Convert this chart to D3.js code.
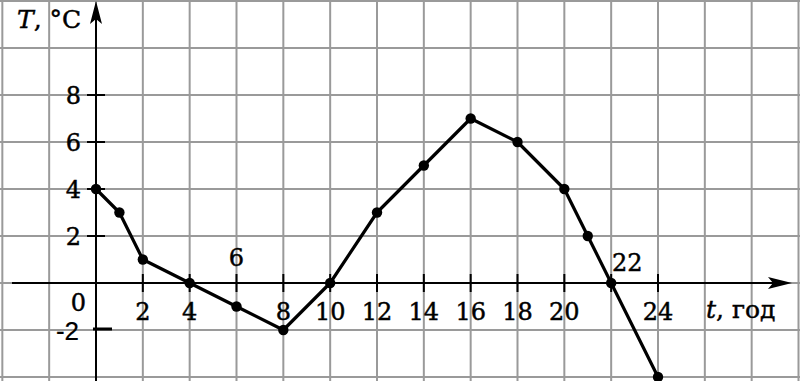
<!DOCTYPE html>
<html><head><meta charset="utf-8">
<script src="https://cdn.jsdelivr.net/npm/d3@7"></script>
<style>html,body{margin:0;padding:0;background:#fff;}svg{display:block;}text{stroke:#000;stroke-width:0.45px;}</style>
</head><body>
<script>
// data
const hours = [0, 1, 2, 4, 6, 8, 10, 12, 14, 16, 18, 20, 21, 22, 24];
const temps = [4, 3, 1, 0, -1, -2, 0, 3, 5, 7, 6, 4, 2, 0, -4];
const xTickLabels = [2, 4, 6, 8, 10, 12, 14, 16, 18, 20, 22, 24];
const xLabelsAbove = [6, 22];
const yTickLabels = [2, 4, 6, 8];
const yNegTick = -2;
const gridX = d3.range(-4, 31, 2);
const gridY = d3.range(-4, 13, 2);

const W = 800, H = 381;
const x = d3.scaleLinear().domain([0, 24]).range([96, 658]);
const y = d3.scaleLinear().domain([-4, 8]).range([377, 95]);

const svg = d3.select("body").append("svg").attr("width", W).attr("height", H);
svg.append("rect").attr("width", W).attr("height", H).attr("fill", "#fff");

// grid
const grid = svg.append("g").attr("stroke", "#9a9a9a").attr("stroke-width", 2);
grid.selectAll("line.v").data(gridX).join("line").attr("class", "v")
  .attr("x1", d => x(d)).attr("x2", d => x(d)).attr("y1", 0).attr("y2", H);
grid.selectAll("line.h").data(gridY).join("line").attr("class", "h")
  .attr("x1", 0).attr("x2", W).attr("y1", d => y(d)).attr("y2", d => y(d));

// axes
const ax = svg.append("g").attr("stroke", "#000").attr("stroke-width", 2);
ax.append("line").attr("x1", 12).attr("x2", 780).attr("y1", y(0)).attr("y2", y(0));
ax.append("line").attr("x1", x(0)).attr("x2", x(0)).attr("y1", 14).attr("y2", H);
svg.append("path").attr("fill", "#000")
  .attr("d", `M${x(0)},1 L${x(0) - 6},24 L${x(0)},19 L${x(0) + 6},24 Z`);
svg.append("path").attr("fill", "#000")
  .attr("d", `M792,${y(0)} L768,${y(0) - 6} L773,${y(0)} L768,${y(0) + 6} Z`);

// ticks
ax.selectAll("line.xt").data(xTickLabels).join("line").attr("class", "xt")
  .attr("x1", d => x(d)).attr("x2", d => x(d)).attr("y1", y(0) - 9).attr("y2", y(0) + 9);
ax.selectAll("line.yt").data(yTickLabels).join("line").attr("class", "yt")
  .attr("x1", x(0) - 9).attr("x2", x(0) + 9).attr("y1", d => y(d)).attr("y2", d => y(d));
svg.append("line").attr("stroke", "#000").attr("stroke-width", 3)
  .attr("x1", x(0) - 3).attr("x2", x(0) + 16).attr("y1", y(yNegTick) - 1).attr("y2", y(yNegTick) - 1);

// labels
const serif = "'DejaVu Serif', serif";
const fs = 24;
svg.selectAll("text.xl").data(xTickLabels).join("text").attr("class", "xl")
  .attr("x", d => x(d) + (d === 22 ? 16 : 0))
  .attr("y", d => xLabelsAbove.includes(d) ? (d === 22 ? y(0) - 12 : y(0) - 17) : y(0) + 37)
  .attr("text-anchor", "middle").attr("font-family", serif).attr("font-size", fs)
  .text(d => d);
svg.selectAll("text.yl").data(yTickLabels).join("text").attr("class", "yl")
  .attr("x", x(0) - 15).attr("y", d => y(d) + 9)
  .attr("text-anchor", "end").attr("font-family", serif).attr("font-size", fs)
  .text(d => d);
svg.append("text").attr("x", x(0) - 10).attr("y", y(0) + 28)
  .attr("text-anchor", "end").attr("font-family", serif).attr("font-size", fs).text("0");
svg.append("text").attr("x", x(0) - 17).attr("y", y(yNegTick) + 10)
  .attr("text-anchor", "end").attr("font-family", "'Liberation Sans', Arial, sans-serif")
  .attr("font-size", 26).style("stroke-width", "0.2px").text(yNegTick);

const tT = svg.append("text").attr("x", 17).attr("y", 28).attr("font-family", serif).attr("font-size", 25);
tT.append("tspan").attr("font-style", "italic").text("T");
tT.append("tspan").text(", °C");
const tX = svg.append("text").attr("x", 706).attr("y", 318).attr("font-family", serif).attr("font-size", 25);
tX.append("tspan").attr("font-style", "italic").text("t");
tX.append("tspan").text(", год");

// line
const pts = hours.map((h, i) => [h, temps[i]]);
svg.append("path").datum(pts)
  .attr("fill", "none").attr("stroke", "#000").attr("stroke-width", 3.2).attr("stroke-linejoin", "round")
  .attr("d", d3.line().x(d => x(d[0])).y(d => y(d[1])));
svg.selectAll("circle.pt").data(pts).join("circle").attr("class", "pt")
  .attr("cx", d => x(d[0])).attr("cy", d => y(d[1])).attr("r", 5.2).attr("fill", "#000");
</script>
</body></html>
